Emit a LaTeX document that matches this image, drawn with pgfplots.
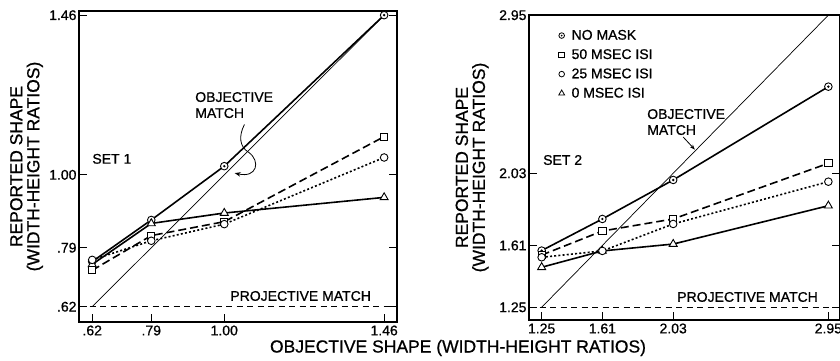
\documentclass[border=0pt]{standalone}
\usepackage{pgfplots}
\pgfplotsset{compat=1.18}
\usetikzlibrary{arrows.meta}
\usepackage{fontspec}
\setmainfont{Liberation Sans}[FakeBold=0.8]
\newcommand\fs{\fontsize{14}{16}\selectfont}
\newcommand\fl{\fontsize{17.5}{17}\selectfont}
\pgfdeclareplotmark{odot}{%
  \pgfpathcircle{\pgfpointorigin}{\pgfplotmarksize}\pgfusepathqfillstroke
  \pgfscope\pgfsetfillcolor{black}%
  \pgfpathcircle{\pgfpointorigin}{0.35\pgfplotmarksize}\pgfusepathqfill\endpgfscope}
\pgfplotsset{
  base/.style={
    scale only axis, anchor=south west,
    axis line style={line width=1.1pt},
    tick style={line width=0.9pt, black},
    major tick length=8pt,
    tick align=inside,
    xtick pos=bottom, ytick pos=both,
    ticklabel style={font=\fs},
    yticklabel style={xshift=1pt},
    xticklabel style={yshift=0pt},
    ylabel style={font=\fl, align=center, anchor=center},
    clip=false,
  },
  nomask/.style={line width=1.6pt, mark=odot, mark size=3.8pt, mark options={fill=white, solid, line width=0.9pt}},
  fifty/.style={line width=1.6pt, dash pattern=on 8pt off 4pt, mark=square*, mark size=3.6pt, mark options={fill=white, solid, line width=0.9pt}},
  twentyfive/.style={line width=1.6pt, dash pattern=on 2pt off 2.2pt, mark=*, mark size=3.8pt, mark options={fill=white, solid, line width=0.9pt}},
  zero/.style={line width=1.6pt, mark=triangle*, mark size=4.6pt, mark options={fill=white, solid, line width=0.9pt}},
  objline/.style={line width=0.7pt},
  projline/.style={line width=1pt, dash pattern=on 6pt off 4.5pt},
}
\begin{document}
\begin{tikzpicture}
% ---------------- SET 1 ----------------
\begin{axis}[base, at={(79pt,38pt)}, width=318pt, height=311pt,
  xmin=0.582, xmax=1.497, ymin=0.576, ymax=1.472,
  xtick={0.62,0.79,1.00,1.46}, xticklabels={.62,.79,1.00,1.46},
  ytick={0.62,0.79,1.00,1.46}, yticklabels={.62,.79,1.00,1.46},
  ylabel={REPORTED SHAPE\\(WIDTH-HEIGHT RATIOS)},
  ylabel style={at={(axis description cs:-0.165,0.5)}},
]
\addplot[projline, forget plot] coordinates {(0.582,0.62) (1.497,0.62)};
\addplot[objline, forget plot] coordinates {(0.62,0.62) (1.46,1.46)};
\addplot[nomask, forget plot] coordinates {(0.62,0.750) (0.79,0.870) (1.00,1.025) (1.46,1.460)};
\addplot[zero, forget plot] coordinates {(0.62,0.742) (0.79,0.860) (1.00,0.890) (1.46,0.935)};
\addplot[fifty, forget plot] coordinates {(0.62,0.725) (0.79,0.825) (1.00,0.865) (1.46,1.110)};
\addplot[twentyfive, forget plot] coordinates {(0.62,0.755) (0.79,0.810) (1.00,0.858) (1.46,1.050)};
\node[anchor=west, font=\fs, inner sep=0pt] at (axis cs:0.62,1.046) {SET 1};
\node[anchor=west, align=left, font=\fs, inner sep=0pt] at (axis cs:0.916,1.201) {OBJECTIVE\\MATCH};
\node[anchor=west, font=\fs, inner sep=0pt] at (axis cs:1.017,0.651) {PROJECTIVE MATCH};
\draw[line width=0.8pt, -{Stealth[length=6pt]}] (axis cs:1.058,1.145) .. controls (axis cs:1.04,1.11) and (axis cs:1.045,1.08) .. (axis cs:1.07,1.065) .. controls (axis cs:1.105,1.04) and (axis cs:1.095,0.99) .. (axis cs:1.03,1.005);
\end{axis}
% ---------------- SET 2 ----------------
\begin{axis}[base, at={(529pt,40pt)}, width=311pt, height=305pt,
  xmin=1.175, xmax=3.019, ymin=1.176, ymax=2.951,
  xtick={1.25,1.61,2.03,2.95}, xticklabels={1.25,1.61,2.03,2.95},
  ytick={1.25,1.61,2.03,2.95}, yticklabels={1.25,1.61,2.03,2.95},
  ylabel={REPORTED SHAPE\\(WIDTH-HEIGHT RATIOS)},
  ylabel style={at={(axis description cs:-0.183,0.5)}},
  legend style={at={(axis description cs:0.095,0.955)}, anchor=north west, draw=none, fill=none, font=\fs, row sep=6pt, column sep=5pt, inner sep=0pt, nodes={inner xsep=2pt, inner ysep=1pt}},
  legend cell align=left,
]
\addlegendimage{only marks, mark=odot, mark size=2.8pt, mark options={fill=white, line width=0.8pt}}
\addlegendentry{NO MASK}
\addlegendimage{only marks, mark=square*, mark size=2.8pt, mark options={fill=white, line width=0.8pt}}
\addlegendentry{50 MSEC ISI}
\addlegendimage{only marks, mark=*, mark size=2.8pt, mark options={fill=white, line width=0.8pt}}
\addlegendentry{25 MSEC ISI}
\addlegendimage{only marks, mark=triangle*, mark size=3.4pt, mark options={fill=white, line width=0.8pt}}
\addlegendentry{0 MSEC ISI}
\addplot[projline, forget plot] coordinates {(1.175,1.25) (3.019,1.25)};
\addplot[objline, forget plot] coordinates {(1.25,1.25) (2.95,2.95)};
\addplot[nomask, forget plot] coordinates {(1.25,1.580) (1.61,1.764) (2.03,1.991) (2.95,2.534)};
\addplot[zero, forget plot] coordinates {(1.25,1.483) (1.61,1.578) (2.03,1.618) (2.95,1.841)};
\addplot[fifty, forget plot] coordinates {(1.25,1.554) (1.61,1.694) (2.03,1.764) (2.95,2.088)};
\addplot[twentyfive, forget plot] coordinates {(1.25,1.541) (1.61,1.578) (2.03,1.735) (2.95,1.981)};
\node[anchor=west, font=\fs, inner sep=0pt] at (axis cs:1.258,2.107) {SET 2};
\node[anchor=west, align=left, font=\fs, inner sep=0pt] at (axis cs:1.875,2.328) {OBJECTIVE\\MATCH};
\node[anchor=west, font=\fs, inner sep=0pt] at (axis cs:2.053,1.310) {PROJECTIVE MATCH};
\draw[line width=0.8pt, -{Stealth[length=5pt]}] (axis cs:2.089,2.241) -- (axis cs:2.158,2.168);
\end{axis}
\node[font=\fl] at (458pt,12pt) {OBJECTIVE SHAPE (WIDTH-HEIGHT RATIOS)};
\pgfresetboundingbox
\path[use as bounding box] (0,0) rectangle (840pt,360pt);
\end{tikzpicture}
\end{document}
